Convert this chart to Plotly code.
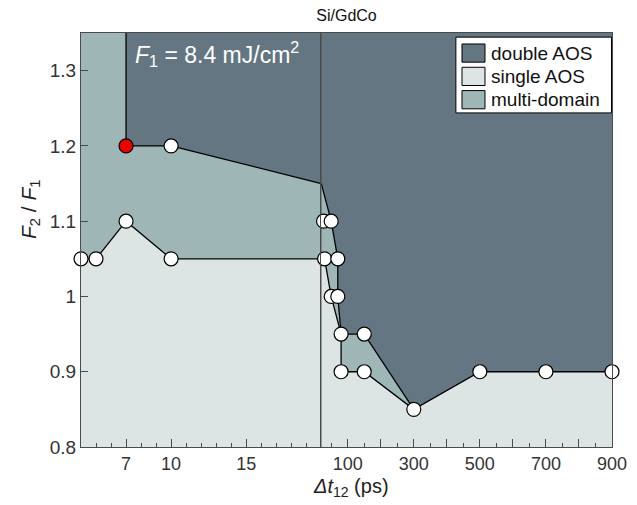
import plotly.graph_objects as go

# ---------------- data ----------------
# left segment of the broken axis: Δt12 = 4 … 20 ps
left_lower_t = [4, 5, 7, 10, 20]
left_lower_r = [1.05, 1.05, 1.10, 1.05, 1.05]
left_upper_t = [7, 7, 10, 20]
left_upper_r = [1.35, 1.20, 1.20, 1.15]

# right segment of the broken axis: Δt12 = 20 … 900 ps
right_lower_t = [20, 30, 50, 80, 80, 150, 300]
right_lower_r = [1.05, 1.05, 1.00, 0.95, 0.90, 0.90, 0.85]
right_upper_t = [20, 50, 70, 70, 80, 150, 300, 500, 700, 900]
right_upper_r = [1.15, 1.10, 1.05, 1.00, 0.95, 0.95, 0.85, 0.90, 0.90, 0.90]

# measured points
left_pts_t = [4, 5, 7, 10, 10]
left_pts_r = [1.05, 1.05, 1.10, 1.05, 1.20]
red_pt_t = [7]
red_pt_r = [1.20]
right_pts_t = [27, 50, 30, 70, 50, 70, 80, 150, 80, 150, 300, 500, 700, 900]
right_pts_r = [1.10, 1.10, 1.05, 1.05, 1.00, 1.00, 0.95, 0.95, 0.90, 0.90, 0.85, 0.90, 0.90, 0.90]

# axes
y_min, y_max = 0.8, 1.35
left_range = [4, 20]
right_range = [20, 900]
left_ticks = [7, 10, 15]
left_minor = [5, 6, 8, 9, 11, 12, 13, 14, 16, 17, 18, 19]
y_ticks = [0.8, 0.9, 1.0, 1.1, 1.2, 1.3]
y_ticktext = ["0.8", "0.9", "1", "1.1", "1.2", "1.3"]

region_names = ["double AOS", "single AOS", "multi-domain"]
C_DOUBLE = "rgb(100,118,129)"
C_SINGLE = "rgb(221,229,228)"
C_MULTI = "rgb(159,182,182)"
region_colors = [C_DOUBLE, C_SINGLE, C_MULTI]
FRAME = "#4a4a4a"
FONT = "Liberation Sans, Arial, sans-serif"

fig = go.Figure()


def poly(xs, ys, color, xa, ya, name=None):
    fig.add_trace(go.Scatter(x=xs, y=ys, fill="toself", fillcolor=color, mode="lines",
                             line=dict(width=0), hoverinfo="skip", showlegend=False,
                             name=name, xaxis=xa, yaxis=ya))


# ---- left segment regions ----
poly([left_range[0]] + left_lower_t + [left_range[1], left_range[0]],
     [y_min] + left_lower_r + [y_min, y_min], C_SINGLE, "x", "y", region_names[1])
poly(left_lower_t + left_upper_t[::-1] + [left_range[0]],
     left_lower_r + left_upper_r[::-1] + [y_max], C_MULTI, "x", "y", region_names[2])
poly(left_upper_t + [left_range[1]], left_upper_r + [y_max], C_DOUBLE, "x", "y", region_names[0])

# ---- right segment regions ----
tail_t = [t for t in right_upper_t if t > right_lower_t[-1]]
tail_r = [r for t, r in zip(right_upper_t, right_upper_r) if t > right_lower_t[-1]]
poly([right_range[0]] + right_lower_t + tail_t + [right_range[1]],
     [y_min] + right_lower_r + tail_r + [y_min], C_SINGLE, "x2", "y2", region_names[1])
n_up = right_upper_t.index(right_lower_t[-1])
poly(right_lower_t + right_upper_t[:n_up + 1][::-1],
     right_lower_r + right_upper_r[:n_up + 1][::-1], C_MULTI, "x2", "y2", region_names[2])
poly(right_upper_t + [right_range[1], right_range[0]],
     right_upper_r + [y_max, y_max], C_DOUBLE, "x2", "y2", region_names[0])

# ---- boundary lines ----
for xs, ys, xa, ya in [(left_lower_t, left_lower_r, "x", "y"),
                       (left_upper_t, left_upper_r, "x", "y"),
                       (right_lower_t, right_lower_r, "x2", "y2"),
                       (right_upper_t, right_upper_r, "x2", "y2")]:
    fig.add_trace(go.Scatter(x=xs, y=ys, mode="lines", line=dict(color="black", width=1.3),
                             hoverinfo="skip", showlegend=False, xaxis=xa, yaxis=ya))

# ---- points ----
mk = dict(size=14, color="white", line=dict(color="black", width=1.2))
fig.add_trace(go.Scatter(x=right_pts_t, y=right_pts_r, mode="markers", marker=mk,
                         cliponaxis=False, showlegend=False, xaxis="x2", yaxis="y2"))
fig.add_trace(go.Scatter(x=left_pts_t, y=left_pts_r, mode="markers", marker=mk,
                         cliponaxis=False, showlegend=False, xaxis="x", yaxis="y"))
fig.add_trace(go.Scatter(x=red_pt_t, y=red_pt_r, mode="markers",
                         marker=dict(size=14, color="rgb(235,0,0)", line=dict(color="black", width=1.2)),
                         cliponaxis=False, showlegend=False, xaxis="x", yaxis="y"))

split = 0.4525
axis_common = dict(showline=True, linecolor=FRAME, linewidth=1.3, mirror=True,
                   ticks="inside", tickcolor=FRAME, tickwidth=1.2, ticklen=8,
                   showgrid=False, zeroline=False, automargin=False,
                   tickfont=dict(family=FONT, size=18, color="#333333"))

# ---- legend box (drawn in paper coordinates of the plot area) ----
shapes = [dict(type="rect", xref="paper", yref="paper", x0=0.706, x1=0.999, y0=0.807, y1=0.99,
               fillcolor="white", line=dict(color="black", width=1), layer="above")]
annotations = []
for i, (name, col) in enumerate(zip(region_names, region_colors)):
    top = 0.9735 - i * 0.0563
    shapes.append(dict(type="rect", xref="paper", yref="paper", x0=0.7175, x1=0.7608,
                       y0=top - 0.044, y1=top, fillcolor=col,
                       line=dict(color="black", width=1), layer="above"))
    annotations.append(dict(text=name, xref="paper", yref="paper", x=0.7685, y=top - 0.022,
                            xanchor="left", yanchor="middle", showarrow=False,
                            font=dict(family=FONT, size=19, color="#111111")))

annotations += [
    dict(text="<i>F</i><sub>1</sub> = 8.4 mJ/cm<sup>2</sup>", xref="paper", yref="paper",
         x=0.098, y=0.95, xanchor="left", yanchor="middle", showarrow=False,
         font=dict(family=FONT, size=23, color="white")),
    dict(text="<i>Δt</i><sub>12</sub> (ps)", xref="paper", yref="paper",
         x=0.508, y=-0.097, xanchor="center", yanchor="middle", showarrow=False,
         font=dict(family=FONT, size=20, color="#222222")),
    dict(text="<i>F</i><sub>2</sub> / <i>F</i><sub>1</sub>", xref="paper", yref="paper",
         x=-0.096, y=0.575, xanchor="center", yanchor="middle", textangle=-90, showarrow=False,
         font=dict(family=FONT, size=21, color="#222222")),
]

# the page body keeps its default 8px margin, so the figure is offset by 8px
fig.update_layout(
    width=629, height=497,
    margin=dict(l=73, r=25, t=25, b=58, autoexpand=False),
    paper_bgcolor="white", plot_bgcolor=C_SINGLE,
    font=dict(family=FONT, color="#222222"),
    title=dict(text="Si/GdCo", x=0.5, xref="paper", y=0.985, yanchor="middle",
               font=dict(family=FONT, size=16, color="#111111")),
    xaxis=dict(domain=[0, split], range=left_range, tickmode="array", tickvals=left_ticks,
               minor=dict(tickmode="array", tickvals=left_minor, ticks="inside", ticklen=4,
                          tickcolor=FRAME, tickwidth=1.2),
               anchor="y", **axis_common),
    xaxis2=dict(domain=[split, 1], range=right_range, tickmode="linear", tick0=100, dtick=100,
                ticklabelstep=2,
                minor=dict(tick0=50, dtick=50, ticks="inside", ticklen=4,
                           tickcolor=FRAME, tickwidth=1.2),
                anchor="y2", **axis_common),
    yaxis=dict(range=[y_min, y_max], tickmode="array", tickvals=y_ticks, ticktext=y_ticktext,
               anchor="x", **{**axis_common, "ticklen": 7,
                              "tickfont": dict(family=FONT, size=19, color="#333333")}),
    yaxis2=dict(range=[y_min, y_max], matches="y", anchor="x2", showticklabels=False,
                showline=True, linecolor=FRAME, linewidth=1.3, mirror=True, ticks="",
                showgrid=False, zeroline=False, automargin=False),
    showlegend=False,
    shapes=shapes,
    annotations=annotations,
)

fig.write_html("out.html")
